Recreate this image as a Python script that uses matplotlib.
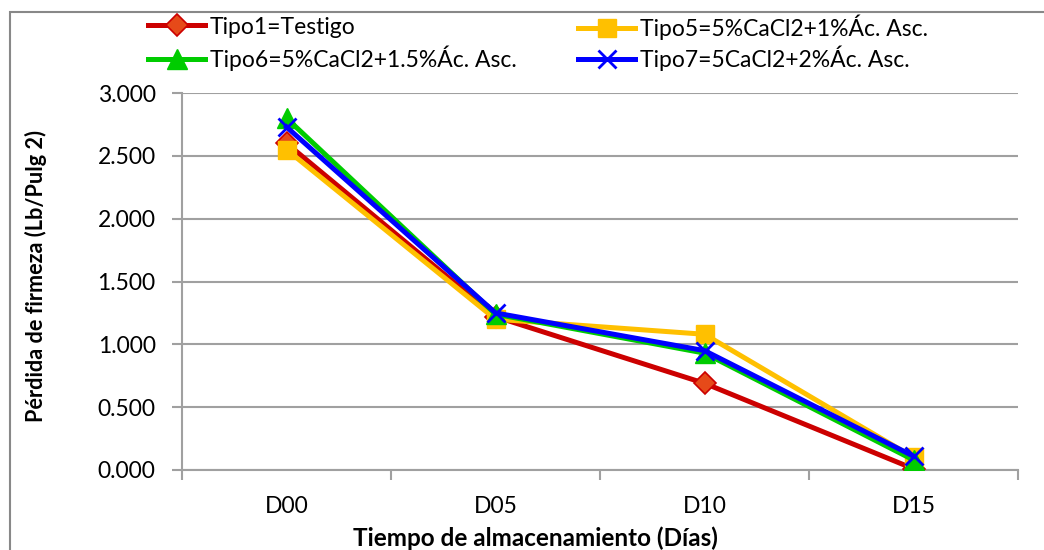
import matplotlib
matplotlib.use('Agg')
import matplotlib.pyplot as plt
from matplotlib.patches import Rectangle
from matplotlib.ticker import FixedLocator, FuncFormatter

plt.rcParams['font.family'] = ['Lato', 'DejaVu Sans']

# data
dias = ['D00', 'D05', 'D10', 'D15']
tipo1 = [2.60, 1.22, 0.69, 0.01]
tipo5 = [2.55, 1.20, 1.08, 0.10]
tipo6 = [2.80, 1.24, 0.93, 0.08]
tipo7 = [2.73, 1.25, 0.95, 0.11]

etiquetas = ['Tipo1=Testigo', 'Tipo5=5%CaCl2+1%Ác. Asc.',
             'Tipo6=5%CaCl2+1.5%Ác. Asc.', 'Tipo7=5CaCl2+2%Ác. Asc.']

W, H = 1044, 550
fig = plt.figure(figsize=(W / 100, H / 100), dpi=100)
ax = fig.add_axes([182/W, 1-470/H, (1018-182)/W, (470-93)/H])

x = list(range(len(dias)))
gris = '#a0a0a0'

l1, = ax.plot(x, tipo1, color='#cc0000', lw=3.6, marker='D', ms=11,
              mfc='#e64a19', mec='#cc0000', mew=1.2, zorder=3)
l5, = ax.plot(x, tipo5, color='#ffc000', lw=3.6, marker='s', ms=13,
              mfc='#ffc000', mec='#ffc000', zorder=4)
l6, = ax.plot(x, tipo6, color='#00cc00', lw=3.6, marker='^', ms=14,
              mfc='#00cc00', mec='#00cc00', zorder=5)
l7, = ax.plot(x, tipo7, color='#0000ff', lw=3.6, marker='x', ms=13,
              mew=2, zorder=6)

ax.set_xlim(-0.5, len(dias) - 0.5)
ax.set_ylim(0, 3)
ax.set_yticks([0, 0.5, 1.0, 1.5, 2.0, 2.5, 3.0])
ax.yaxis.set_major_formatter(FuncFormatter(lambda v, p: '{:.3f}'.format(v)))
ax.set_xticks(x)
ax.set_xticklabels(dias)
ax.xaxis.set_minor_locator(FixedLocator([i - 0.5 for i in range(len(dias) + 1)]))
ax.tick_params(axis='x', which='major', length=0, pad=19, labelsize=16.5)
ax.tick_params(axis='x', which='minor', length=7, width=1.5, color=gris)
ax.tick_params(axis='y', length=7, width=1.5, color=gris, labelsize=16.5, pad=12)

ax.grid(axis='y', color=gris, lw=1.5)
ax.set_axisbelow(True)
for s in ['top', 'right']:
    ax.spines[s].set_visible(False)
for s in ['left', 'bottom']:
    ax.spines[s].set_color(gris)
    ax.spines[s].set_linewidth(1.5)

ax.set_xlabel('Tiempo de almacenamiento (Días)', fontsize=17.5, fontweight='bold')
ax.xaxis.label.set_va('center')
ax.xaxis.set_label_coords((535-182)/836, -(538-470)/377)
ax.set_ylabel('Pérdida de firmeza (Lb/Pulg 2)', fontsize=15.6, fontweight='bold')
ax.yaxis.label.set_va('center')
ax.yaxis.set_label_coords((36-182)/836, (470-276)/377)

# legend: one entry per slot, two columns above the plot
kw = dict(loc='center left', frameon=False, fontsize=16.5, handlelength=2.5,
          handletextpad=0.2, borderpad=0, borderaxespad=0)
posiciones = [(148, 27), (578, 27), (148, 58), (578, 58)]
for linea, texto, (px, py) in zip([l1, l5, l6, l7], etiquetas, posiciones):
    fig.legend([linea], [texto], bbox_to_anchor=(px/W, 1-py/H), **kw)

# outer chart frame
fig.patches.append(Rectangle((10/W, -0.1), 1.2, 1.1 - 12/H, transform=fig.transFigure,
                             fill=False, ec='#888888', lw=1.5))

fig.savefig('out.png', dpi=100)
